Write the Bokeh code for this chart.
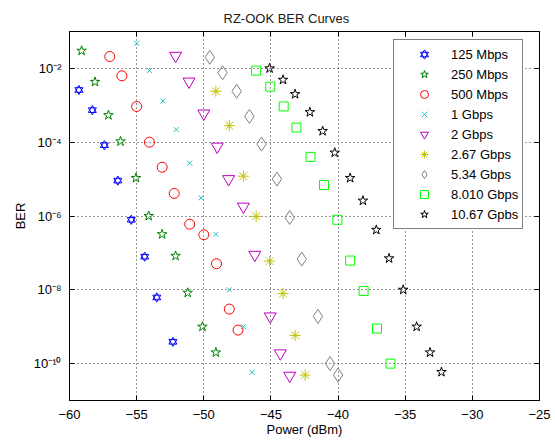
from bokeh.plotting import figure
from bokeh.models import (Range1d, FixedTicker, SingleIntervalTicker, LinearAxis, LogAxis,
                          CustomJSTickFormatter, Legend, LegendItem)
from bokeh.embed import file_html
from bokeh.resources import INLINE

# ---------------- data ----------------
x_125m = [-59.3, -58.3, -57.4, -56.4, -55.4, -54.4, -53.5, -52.3]
ber_125m = [2.6e-3, 7.4e-4, 8.3e-5, 9.1e-6, 7.9e-7, 7.9e-8, 6.2e-9, 3.9e-10]

x_250m = [-59.1, -58.1, -57.1, -56.2, -55.05, -54.1, -53.1, -52.1, -51.2, -50.1, -49.1]
ber_250m = [3.0e-2, 4.3e-3, 5.4e-4, 1.05e-4, 1.07e-5, 1.0e-6, 3.2e-7, 8.3e-8, 8.3e-9, 1.0e-9, 2.0e-10]

x_500m = [-57.0, -56.1, -55.0, -54.05, -53.1, -52.2, -51.05, -50.0, -49.05, -48.1, -47.45]
ber_500m = [2.1e-2, 6.3e-3, 9.3e-4, 1.0e-4, 2.1e-5, 4.1e-6, 6.0e-7, 3.1e-7, 5.1e-8, 3.0e-9, 8.1e-10]

x_1g = [-55.0, -54.05, -53.05, -52.05, -51.05, -50.2, -49.1, -48.1, -47.05, -46.4]
ber_1g = [4.8e-2, 8.7e-3, 1.3e-3, 2.2e-4, 2.7e-5, 3.1e-6, 3.2e-7, 1.0e-8, 1.0e-9, 5.8e-11]

x_2g = [-52.1, -51.1, -50.0, -49.0, -48.15, -47.05, -46.2, -45.05, -44.3, -43.6]
ber_2g = [2.2e-2, 4.4e-3, 6.0e-4, 7.6e-5, 1.0e-5, 1.8e-6, 8.9e-8, 1.9e-9, 1.9e-10, 4.7e-11]

x_267g = [-49.1, -48.1, -47.05, -46.1, -45.1, -44.1, -43.2, -42.45]
ber_267g = [2.4e-3, 2.8e-4, 1.2e-5, 9.8e-7, 6.0e-8, 7.9e-9, 5.8e-10, 4.9e-11]

x_534g = [-49.55, -48.6, -47.55, -46.6, -45.7, -44.55, -43.6, -42.7, -41.5, -40.6, -40.0]
ber_534g = [2.0e-2, 7.6e-3, 2.4e-3, 5.0e-4, 8.9e-5, 1.0e-5, 9.1e-7, 6.8e-8, 1.9e-9, 1.0e-10, 4.9e-11]

x_801g = [-46.1, -45.05, -44.05, -43.1, -42.05, -41.05, -40.05, -39.1, -38.1, -37.1, -36.1]
ber_801g = [8.7e-3, 3.2e-3, 9.3e-4, 2.5e-4, 4.0e-5, 6.9e-6, 7.9e-7, 6.2e-8, 9.3e-9, 8.9e-10, 1.0e-10]

x_1067g = [-45.1, -44.1, -43.2, -42.1, -41.15, -40.25, -39.1, -38.15, -37.15, -36.2, -35.15, -34.15, -33.15, -32.3]
ber_1067g = [1.0e-2, 4.9e-3, 2.0e-3, 6.5e-4, 2.0e-4, 5.2e-5, 1.07e-5, 2.6e-6, 4.2e-7, 7.1e-8, 1.0e-8, 1.0e-9, 2.0e-10, 5.9e-11]

labels = ["125 Mbps", "250 Mbps", "500 Mbps", "1 Gbps", "2 Gbps", "2.67 Gbps", "5.34 Gbps", "8.010 Gbps", "10.67 Gpbs"]
y_ticks = [1e-10, 1e-8, 1e-6, 1e-4, 1e-2]

FONT = "Liberation Sans"

p = figure(width=555, height=441, x_range=Range1d(-60, -25), y_range=Range1d(1e-11, 1e-1),
           y_axis_type="log", output_backend="svg", toolbar_location=None,
           min_border_left=69, min_border_right=16, min_border_top=31, min_border_bottom=41,
           background_fill_color="white", border_fill_color="white")

p.title.text = "RZ-OOK BER Curves"
p.title.align = "left"
p.title.offset = 154
p.title.text_font = FONT
p.title.text_font_size = "13px"
p.title.text_font_style = "normal"
p.title.text_color = "#202020"
p.title.standoff = 12

p.outline_line_color = "black"
p.outline_line_width = 1

# axes
xa = p.xaxis[0]
xa.ticker = SingleIntervalTicker(interval=5, num_minor_ticks=0)
ya = p.yaxis[0]
ya.ticker = FixedTicker(ticks=y_ticks)
ya.formatter = CustomJSTickFormatter(code="""
const e = Math.round(Math.log10(tick));
const sup = {'-':'\u207b','0':'\u2070','1':'\u00b9','2':'\u00b2','3':'\u00b3','4':'\u2074',
             '5':'\u2075','6':'\u2076','7':'\u2077','8':'\u2078','9':'\u2079'};
return '10' + String(e).split('').map(c => sup[c]).join('');
""")
for ax in (xa, ya):
    ax.axis_line_color = "black"
    ax.major_tick_line_color = "black"
    ax.major_tick_in = 5
    ax.major_tick_out = 0
    ax.minor_tick_line_color = None
    ax.major_label_text_font = FONT
    ax.major_label_text_font_size = "13px"
    ax.major_label_text_color = "black"
    ax.axis_label_text_font = FONT
    ax.axis_label_text_font_size = "13px"
    ax.axis_label_text_font_style = "normal"
    ax.axis_label_text_color = "black"
xa.axis_label = "Power (dBm)"
ya.axis_label = "BER"
xa.major_label_standoff = 9
xa.axis_label_standoff = 0
ya.major_label_standoff = 8
ya.axis_label_standoff = 3

# mirrored tick marks on top and right (no labels)
blank = CustomJSTickFormatter(code="return '';")
top = LinearAxis(ticker=SingleIntervalTicker(interval=5, num_minor_ticks=0), formatter=blank)
right = LogAxis(ticker=FixedTicker(ticks=y_ticks), formatter=blank)
for ax in (top, right):
    ax.axis_line_color = None
    ax.major_tick_line_color = "black"
    ax.major_tick_in = 5
    ax.major_tick_out = 0
    ax.minor_tick_line_color = None
    ax.major_label_standoff = 0
p.add_layout(top, "above")
p.add_layout(right, "right")

# grid
p.xgrid.ticker = SingleIntervalTicker(interval=5, num_minor_ticks=0)
p.ygrid.ticker = FixedTicker(ticks=y_ticks)
for g in (p.xgrid[0], p.ygrid[0]):
    g.grid_line_color = "#303030"
    g.grid_line_dash = "1 3"
    g.grid_line_width = 1

# series
items = []
r1a = p.scatter(x_125m, ber_125m, marker="triangle", size=8, line_color="#0000ff", fill_color=None, line_width=1)
r1b = p.scatter(x_125m, ber_125m, marker="inverted_triangle", size=8, line_color="#0000ff", fill_color=None, line_width=1)
items.append(LegendItem(label=labels[0], renderers=[r1a, r1b]))

specs = [
    (x_250m, ber_250m, "star", 10, "#008000"),
    (x_500m, ber_500m, "circle", 10, "#ff0000"),
    (x_1g, ber_1g, "x", 7, "#20c0c0"),
    (x_2g, ber_2g, "inverted_triangle", 12, "#c000c0"),
    (x_267g, ber_267g, "asterisk", 11, "#c0c000"),
    (x_534g, ber_534g, "diamond", 14, "#808080"),
    (x_801g, ber_801g, "square", 9, "#00ff00"),
    (x_1067g, ber_1067g, "star", 10, "#000000"),
]
for (xs, ys, mk, sz, col), lab in zip(specs, labels[1:]):
    r = p.scatter(xs, ys, marker=mk, size=sz, line_color=col, fill_color=None, line_width=1)
    items.append(LegendItem(label=lab, renderers=[r]))

legend = Legend(items=items, location=(324, 171))
legend.border_line_color = "black"
legend.border_line_width = 1
legend.background_fill_color = "white"
legend.background_fill_alpha = 1
legend.label_text_font = FONT
legend.label_text_font_size = "13px"
legend.label_text_color = "black"
legend.glyph_height = 20
legend.glyph_width = 52
legend.label_height = 20
legend.label_standoff = 1
legend.spacing = 0
legend.padding = 4
legend.margin = 0
p.add_layout(legend)

open("out.html", "w").write(file_html(p, INLINE))
